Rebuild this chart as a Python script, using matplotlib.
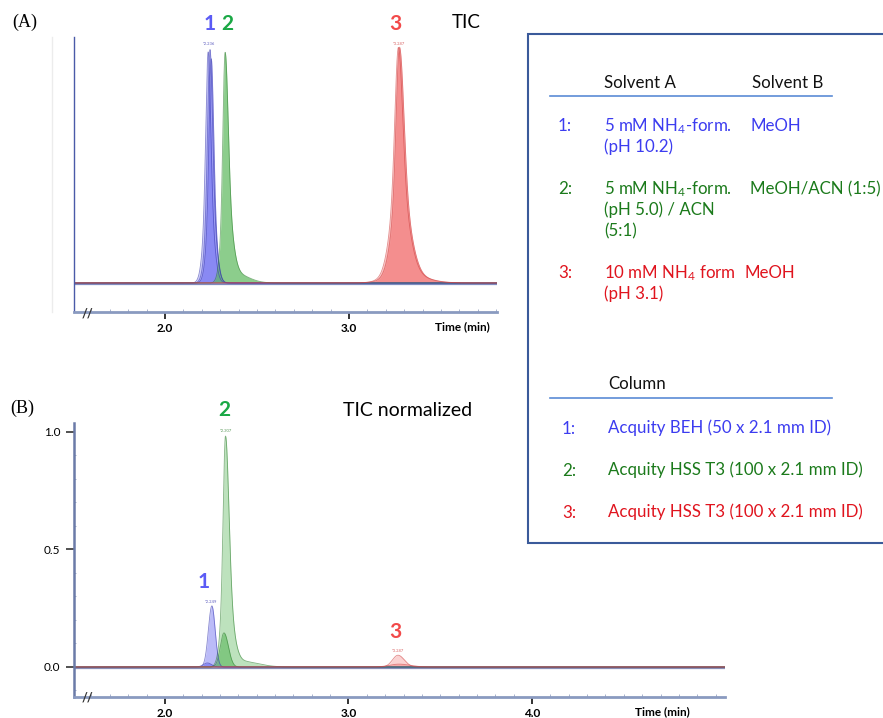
import numpy as np
import matplotlib.pyplot as plt
from matplotlib.patches import Rectangle
from matplotlib.ticker import MultipleLocator, FixedLocator

plt.rcParams['font.family'] = ['Lato', 'DejaVu Sans']
plt.rcParams['mathtext.fontset'] = 'custom'
plt.rcParams['mathtext.rm'] = 'Lato'
plt.rcParams['mathtext.default'] = 'regular'

# peak components: (centre [min], height, sigma left, sigma right)
a_blue_1 = [(2.234, 0.60, 0.012, 0.013), (2.236, 0.38, 0.024, 0.026)]
a_blue_2 = [(2.244, 0.60, 0.012, 0.013), (2.246, 0.39, 0.023, 0.026)]
a_blue_3 = [(2.251, 0.58, 0.011, 0.012), (2.252, 0.37, 0.022, 0.024)]
a_green = [(2.326, 0.62, 0.011, 0.016), (2.328, 0.35, 0.022, 0.032), (2.38, 0.04, 0.03, 0.07)]
a_red_1 = [(3.268, 0.58, 0.018, 0.022), (3.27, 0.37, 0.042, 0.05), (3.29, 0.05, 0.08, 0.10)]
a_red_2 = [(3.274, 0.60, 0.017, 0.023), (3.276, 0.36, 0.040, 0.052), (3.29, 0.04, 0.08, 0.11)]

b_green = [(2.330, 0.65, 0.012, 0.018), (2.332, 0.33, 0.024, 0.034), (2.41, 0.025, 0.04, 0.09)]
b_green_small = [(2.322, 0.145, 0.020, 0.024)]
b_blue = [(2.256, 0.26, 0.019, 0.018)]
b_blue_small = [(2.232, 0.017, 0.022, 0.022)]
b_red = [(3.270, 0.05, 0.030, 0.034)]
b_red_small = [(3.275, 0.012, 0.05, 0.06)]

# peak labels: (x, y, text, colour key)
a_marks = [(2.24, 1.095, '1', 'b'), (2.34, 1.095, '2', 'g'), (3.25, 1.095, '3', 'r')]
a_rt = [(2.24, 1.005, '*2.236', 'b'), (3.27, 1.005, '*3.287', 'r')]
b_marks = [(2.325, 1.095, '2', 'g'), (2.21, 0.36, '1', 'b'), (3.255, 0.15, '3', 'r')]
b_rt = [(2.33, 0.995, '*2.307', 'g'), (2.25, 0.27, '*2.249', 'b'), (3.27, 0.06, '*3.287', 'r')]

fill_c = {'b': '#6a6af0', 'g': '#5cb85c', 'r': '#f26a6a'}
edge_c = {'b': '#3838b0', 'g': '#2f7f2f', 'r': '#d04040'}
mark_c = {'b': '#5b5bf5', 'g': '#1aa845', 'r': '#f24a4a'}
txt_c = {'b': '#3c3cf0', 'g': '#1b7a1b', 'r': '#e0141e'}


def trace(t, comps):
    y = np.zeros_like(t)
    for c, h, sl, sr in comps:
        s = np.where(t < c, sl, sr)
        y += h * np.exp(-0.5 * ((t - c) / s) ** 2)
    return y


def draw(ax, t, comps, col, alpha):
    y = trace(t, comps)
    ax.fill_between(t, 0, y, color=fill_c[col], alpha=alpha, lw=0)
    ax.plot(t, y, color=edge_c[col], lw=0.6, alpha=0.6)


def style(ax, xmax, ticks):
    for s in ['top', 'right']:
        ax.spines[s].set_visible(False)
    ax.spines['bottom'].set_color('#8a9ac0')
    ax.spines['bottom'].set_linewidth(2.0)
    ax.xaxis.set_major_locator(FixedLocator(ticks))
    ax.xaxis.set_minor_locator(MultipleLocator(0.1))
    ax.xaxis.set_major_formatter(plt.FuncFormatter(lambda v, p: f'{v:.1f}'))
    ax.tick_params(axis='x', which='major', direction='out', length=5, width=1.4,
                   color='#333333', labelsize=8.5, pad=3)
    ax.tick_params(axis='x', which='minor', direction='in', length=2, width=0.6, color='#9aa6c4')
    for lab in ax.get_xticklabels():
        lab.set_fontweight('bold')
    ax.set_xlim(1.505, xmax)
    ax.patch.set_alpha(0)


fig = plt.figure(figsize=(8.83, 7.18), dpi=100)

# ---------- panel A ----------
axA = fig.add_axes([0.0838, 0.5655, 0.479, 0.383])
tA = np.linspace(1.5, 3.81, 3000)
axA.axhline(-0.004, color='#7f8cc0', lw=1.6)
for comps in [a_blue_1, a_blue_2, a_blue_3]:
    draw(axA, tA, comps, 'b', 0.4)
draw(axA, tA, a_green, 'g', 0.7)
for comps in [a_red_1, a_red_2]:
    draw(axA, tA, comps, 'r', 0.5)
axA.set_ylim(-0.123, 1.042)
axA.set_yticks([])
axA.spines['left'].set_color('#4a5aa8')
axA.spines['left'].set_linewidth(1.0)
style(axA, 3.804, [2.0, 3.0])
for x, y, s, c in a_marks:
    axA.text(x, y, s, color=mark_c[c], fontsize=15, fontweight='bold', ha='center', va='center', clip_on=False)
for x, y, s, c in a_rt:
    axA.text(x, y, s, color=edge_c[c], fontsize=3, ha='center', va='bottom', alpha=0.8)
fig.add_artist(plt.Line2D([52 / 883, 52 / 883], [1 - 312 / 718, 1 - 37 / 718], color='#ececec', lw=1))

# ---------- panel B ----------
axB = fig.add_axes([0.0838, 0.0292, 0.737, 0.3816])
tB = np.linspace(1.5, 5.06, 4000)
axB.axhline(-0.004, color='#8a8fb8', lw=1.6)
draw(axB, tB, b_green, 'g', 0.4)
draw(axB, tB, b_blue, 'b', 0.45)
draw(axB, tB, b_blue_small, 'b', 0.6)
draw(axB, tB, b_green_small, 'g', 0.6)
draw(axB, tB, b_red, 'r', 0.3)
draw(axB, tB, b_red_small, 'r', 0.4)
axB.set_ylim(-0.128, 1.038)
axB.set_yticks([0.0, 0.5, 1.0])
axB.yaxis.set_minor_locator(MultipleLocator(0.1))
axB.yaxis.set_major_formatter(plt.FuncFormatter(lambda v, p: f'{v:.1f}'))
axB.tick_params(axis='y', which='major', direction='out', length=6, width=1.2, color='#333333',
                labelsize=8.5, pad=4)
axB.tick_params(axis='y', which='minor', direction='in', length=1.5, width=0.6, color='#9aa6c4')
axB.spines['left'].set_color('#6b7ba8')
axB.spines['left'].set_linewidth(1.8)
style(axB, 5.05, [2.0, 3.0, 4.0])
for x, y, s, c in b_marks:
    axB.text(x, y, s, color=mark_c[c], fontsize=15, fontweight='bold', ha='center', va='center', clip_on=False)
for x, y, s, c in b_rt:
    axB.text(x, y, s, color=edge_c[c], fontsize=3, ha='center', va='bottom', alpha=0.8)

# ---------- figure texts ----------
def px(x, y):
    return x / 883, 1 - y / 718

fig.text(*px(12, 22), '(A)', family='Liberation Serif', fontsize=13, va='center')
fig.text(*px(10, 408), '(B)', family='Liberation Serif', fontsize=13, va='center')
fig.text(*px(452, 22), 'TIC', fontsize=13.5, va='center')
fig.text(*px(343, 410), 'TIC normalized', fontsize=14, va='center')
fig.text(*px(462, 327), 'Time (min)', fontsize=8.5, fontweight='bold', ha='center', va='center')
fig.text(*px(662, 712), 'Time (min)', fontsize=8.5, fontweight='bold', ha='center', va='center')
fig.text(*px(88, 313), '//', fontsize=9, fontweight='bold', ha='center', va='center', color='#333333')
fig.text(*px(88, 698), '//', fontsize=9, fontweight='bold', ha='center', va='center', color='#333333')

# ---------- info box ----------
fig.add_artist(Rectangle(px(528, 543), 400 / 883, (543 - 34) / 718, transform=fig.transFigure,
                         facecolor='white', edgecolor='#3a5a9a', lw=1.5, clip_on=False, zorder=5))
for yl in [96, 398]:
    fig.add_artist(plt.Line2D([550 / 883, 832 / 883], [1 - yl / 718] * 2, color='#5b8bd5', lw=1.2, zorder=6))

fs = 12.2
box_text = [
    (604, 83, 'Solvent A', 'k'), (752, 83, 'Solvent B', 'k'),
    (558, 126, '1:', 'b'), (604, 126, '5 mM NH$_4$-form.', 'b'), (604, 147, '(pH 10.2)', 'b'),
    (750, 126, 'MeOH', 'b'),
    (558, 189, '2:', 'g'), (604, 189, '5 mM NH$_4$-form.', 'g'), (604, 210, '(pH 5.0) / ACN', 'g'),
    (604, 231, '(5:1)', 'g'), (750, 189, 'MeOH/ACN (1:5)', 'g'),
    (558, 273, '3:', 'r'), (604, 273, '10 mM NH$_4$ form', 'r'), (604, 294, '(pH 3.1)', 'r'),
    (745, 273, 'MeOH', 'r'),
    (608, 384, 'Column', 'k'),
    (562, 429, '1:', 'b'), (608, 428, 'Acquity BEH (50 x 2.1 mm ID)', 'b'),
    (562, 471, '2:', 'g'), (608, 470, 'Acquity HSS T3 (100 x 2.1 mm ID)', 'g'),
    (562, 513, '3:', 'r'), (608, 512, 'Acquity HSS T3 (100 x 2.1 mm ID)', 'r'),
]
for x, y, s, c in box_text:
    col = '#111111' if c == 'k' else txt_c[c]
    fig.text(*px(x, y), s, fontsize=fs, color=col, va='center', ha='left', zorder=7)

fig.savefig('out.png', dpi=100)
